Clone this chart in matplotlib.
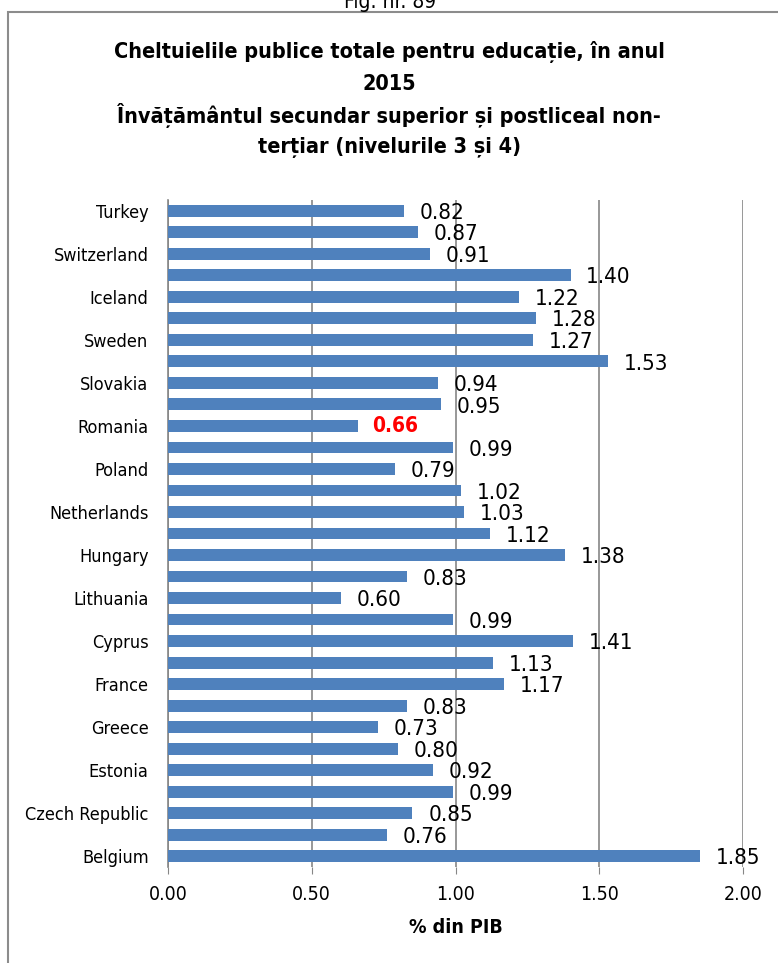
import matplotlib
matplotlib.use("Agg")
import matplotlib.pyplot as plt
from matplotlib.patches import Rectangle

# countries from bottom to top (only every other one is labelled in the chart)
countries = ["Belgium", "Bulgaria", "Czech Republic", "Denmark", "Estonia",
             "Ireland", "Greece", "Spain", "France", "Croatia", "Cyprus",
             "Latvia", "Lithuania", "Luxembourg", "Hungary", "Malta",
             "Netherlands", "Austria", "Poland", "Portugal", "Romania",
             "Slovenia", "Slovakia", "Finland", "Sweden", "United Kingdom",
             "Iceland", "Norway", "Switzerland", "North Macedonia", "Turkey"]
values = [1.85, 0.76, 0.85, 0.99, 0.92, 0.80, 0.73, 0.83, 1.17, 1.13, 1.41,
          0.99, 0.60, 0.83, 1.38, 1.12, 1.03, 1.02, 0.79, 0.99, 0.66, 0.95,
          0.94, 1.53, 1.27, 1.28, 1.22, 1.40, 0.91, 0.87, 0.82]
highlight = "Romania"
xticks = [0.0, 0.5, 1.0, 1.5, 2.0]

plt.rcParams['font.family'] = ['DejaVu Sans']
plt.rcParams['font.stretch'] = 'condensed'

BLUE = "#4f81bd"
GRID = "#868686"

fig = plt.figure(figsize=(7.78, 9.63), dpi=100)

# outer frame of the figure box
fig.patches.append(Rectangle((8 / 778, -0.01), 1.0, 1 - 12 / 963 + 0.01,
                             transform=fig.transFigure, fill=False,
                             edgecolor="#8c8c8c", linewidth=1.5))
fig.text(390 / 778, 1 - 2 / 963, "Fig. nr. 89", ha="center", va="center",
         fontsize=15)

title_lines = ["Cheltuielile publice totale pentru educație, în anul", "2015",
               "Învățământul secundar superior și postliceal non-",
               "terțiar (nivelurile 3 și 4)"]
for i, line in enumerate(title_lines):
    fig.text(389 / 778, 1 - (52 + 32 * i) / 963, line, ha="center",
             va="center", fontsize=15.5, fontweight="bold")

ax = fig.add_axes([168 / 778, 1 - 867 / 963, 575 / 778, 667 / 963])
ypos = list(range(len(countries)))
ax.barh(ypos, values, height=0.55, color=BLUE, zorder=3)
ax.set_xlim(0, 2.0)
ax.set_ylim(-0.5, len(countries) - 0.5)

for y, v, c in zip(ypos, values, countries):
    if c == highlight:
        ax.text(v + 0.05, y, "%.2f" % v, va="center", ha="left",
                fontsize=15, color="red", fontweight="bold", zorder=4)
    else:
        ax.text(v + 0.055, y - 0.1, "%.2f" % v, va="center", ha="left",
                fontsize=16, color="black", zorder=4)

ax.set_yticks(ypos[::2])
ax.set_yticklabels(countries[::2], fontsize=13)
ax.tick_params(axis="y", length=0, pad=14)
ax.set_xticks(xticks)
ax.set_xticklabels(["%.2f" % t for t in xticks], fontsize=14)
ax.tick_params(axis="x", length=5, color=GRID, pad=8, direction="out")
ax.xaxis.grid(True, color=GRID, linewidth=1.2, zorder=0)
for s in ["top", "right", "bottom"]:
    ax.spines[s].set_visible(False)
ax.spines["left"].set_color(GRID)
ax.spines["left"].set_linewidth(1.2)
ax.set_xlabel("% din PIB", fontsize=14, fontweight="bold", labelpad=10)

fig.savefig("out.png", dpi=100)
